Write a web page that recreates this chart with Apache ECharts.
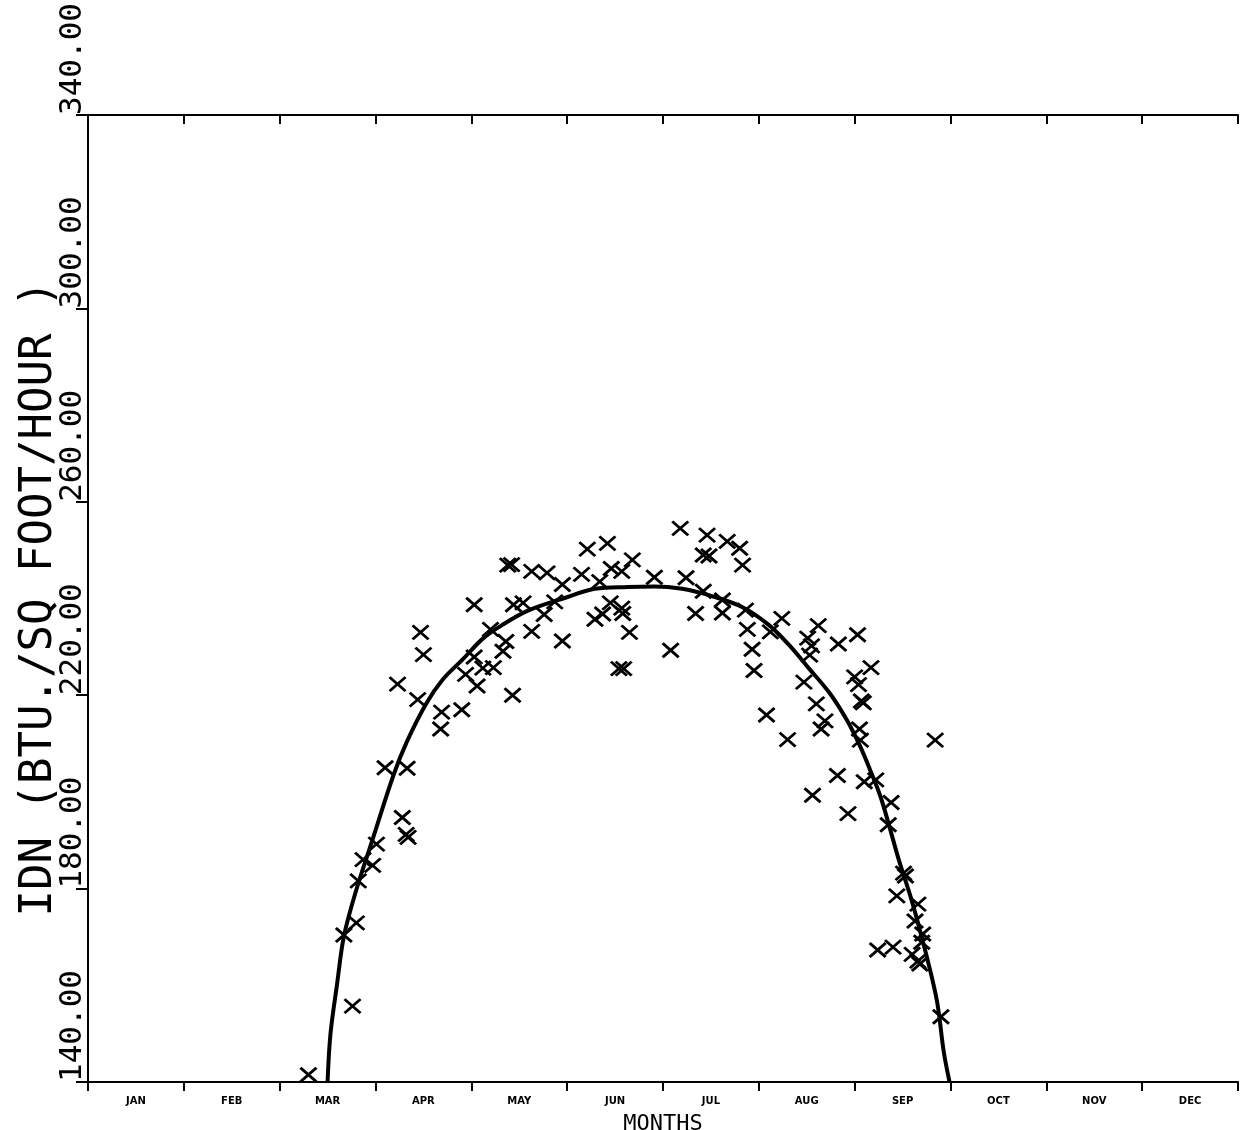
<!DOCTYPE html>
<html><head><meta charset="utf-8">
<script src="https://cdn.jsdelivr.net/npm/echarts@6/dist/echarts.min.js"></script>
<style>html,body{margin:0;padding:0;background:#fff}#c{width:1249px;height:1130px}</style>
</head><body><div id="c"></div>
<script>
// Month labels and y tick values
const months = ['JAN','FEB','MAR','APR','MAY','JUN','JUL','AUG','SEP','OCT','NOV','DEC'];
const yTicks = [140, 180, 220, 260, 300, 340];

// Fitted curve (month position, IDN value)
const curveMonth = [2.50, 2.53, 2.60, 2.67, 2.79, 2.97, 3.19, 3.33, 3.53, 3.70, 3.91, 4.12, 4.32, 4.59, 4.94, 5.29, 5.63, 5.91, 6.20, 6.51, 6.83, 7.10, 7.31, 7.52, 7.74, 7.92, 8.06, 8.16, 8.27, 8.35, 8.46, 8.60, 8.75, 8.86, 8.93, 8.99];
const curveValue = [140, 149.9, 160.4, 170.1, 179.1, 190.2, 203.6, 210.5, 218.3, 223.2, 227.4, 231.7, 234.5, 237.5, 239.9, 242.0, 242.4, 242.5, 242.0, 240.5, 238.2, 234.6, 230.5, 225.6, 220.4, 214.8, 209.3, 204.6, 199.0, 193.7, 186.0, 177.2, 166.1, 156.6, 146.2, 140];

// Observed points (month position, IDN value)
const obsMonth = [2.30, 2.76, 2.67, 2.80, 2.82, 2.87, 2.97, 3.01, 3.28, 3.34, 3.32, 3.10, 3.33, 3.23, 3.44, 3.47, 3.50, 3.69, 3.68, 3.90,
  3.94, 4.03, 4.12, 4.23, 4.06, 4.43, 4.03, 4.20, 4.36, 4.33, 4.44, 4.54, 4.63, 4.76, 4.87, 4.95, 4.38, 4.42, 4.63, 4.79,
  4.95, 5.21, 5.42, 5.15, 5.34, 5.46, 5.57, 5.68, 5.91, 5.45, 5.57, 5.29, 5.37, 5.58, 5.65, 6.08, 5.54, 5.59, 6.18, 6.46,
  6.42, 6.48, 6.67, 6.80, 6.83, 6.24, 6.42, 6.34, 6.62, 6.62, 6.86, 6.88, 6.93, 6.95, 7.24, 7.12, 7.08, 7.30, 7.51, 7.62,
  7.55, 7.53, 7.83, 8.03, 7.47, 7.60, 7.69, 7.65, 8.17, 8.00, 8.04, 8.09, 8.07, 8.05, 8.06, 8.84, 7.82, 7.56, 7.93, 8.10,
  8.22, 8.38, 8.35, 8.53, 8.51, 8.44, 8.66, 8.63, 8.70, 8.71, 8.24, 8.40, 8.60, 8.68, 8.66, 8.90];
const obsValue = [141.5, 155.7, 170.4, 172.9, 181.6, 186.0, 184.8, 189.2, 194.7, 190.6, 191.2, 205.0, 204.9, 222.3, 219.1, 233.0, 228.4, 216.5, 213.0, 217.0,
  224.3, 227.9, 225.6, 225.7, 221.9, 220.0, 238.7, 233.6, 231.1, 229.1, 238.7, 239.1, 233.2, 236.7, 239.3, 231.2, 246.9, 247.0, 245.6, 245.3,
  242.9, 250.2, 251.4, 245.0, 243.5, 246.2, 245.6, 248.0, 244.4, 239.1, 238.0, 235.7, 236.8, 236.9, 233.0, 229.3, 225.5, 225.5, 254.5, 253.1,
  249.0, 248.8, 251.8, 250.4, 246.9, 244.3, 241.5, 236.9, 239.7, 237.0, 237.6, 233.6, 229.5, 225.1, 235.9, 233.1, 215.9, 210.8, 231.8, 234.4,
  230.2, 228.3, 230.6, 232.5, 222.7, 218.2, 214.7, 213.0, 225.7, 223.8, 222.2, 218.4, 218.8, 213.0, 210.7, 210.7, 203.4, 199.3, 195.5, 202.1,
  202.5, 197.8, 193.2, 182.6, 183.2, 178.5, 176.8, 173.3, 168.9, 170.6, 167.3, 167.9, 166.4, 164.4, 165.0, 153.5];

const chart = echarts.init(document.getElementById('c'), null, {renderer: 'canvas'});
const line = {show: true, lineStyle: {color: '#000', width: 2}};
const tickStyle = {color: '#000', width: 2};
chart.setOption({
  animation: false,
  backgroundColor: '#fff',
  grid: {left: 88, right: 11, top: 115, bottom: 48, containLabel: false, outerBoundsMode: 'none'},
  xAxis: [
    {type: 'value', min: 0, max: 12, interval: 1, position: 'bottom', axisLine: line,
      axisTick: {show: true, inside: false, length: 9, lineStyle: tickStyle},
      axisLabel: {show: false}, splitLine: {show: false},
      name: 'MONTHS', nameLocation: 'middle', nameGap: 31, nameMoveOverlap: false,
      nameTextStyle: {fontFamily: 'DejaVu Sans Mono', fontSize: 22, color: '#000'}},
    {type: 'value', min: 0, max: 12, interval: 1, position: 'top', axisLine: line,
      axisTick: {show: true, inside: true, length: 9, lineStyle: tickStyle},
      axisLabel: {show: false}, splitLine: {show: false}},
    {type: 'category', data: months, position: 'bottom', boundaryGap: true,
      axisLine: {show: false}, axisTick: {show: false}, splitLine: {show: false},
      axisLabel: {margin: 14, fontSize: 10, fontWeight: 'bold', color: '#000', fontFamily: 'DejaVu Sans'}}
  ],
  yAxis: [
    {type: 'value', min: 140, max: 340, position: 'left', axisLine: line,
      axisTick: {show: true, customValues: yTicks, length: 12, lineStyle: tickStyle},
      axisLabel: {customValues: yTicks, rotate: 90, align: 'left', verticalAlign: 'bottom', margin: 0,
        fontFamily: 'DejaVu Sans Mono', fontSize: 31, color: '#000', formatter: v => Number(v).toFixed(2)},
      splitLine: {show: false},
      name: 'IDN (BTU./SQ FOOT/HOUR )', nameLocation: 'middle', nameGap: 26, nameMoveOverlap: false,
      nameTextStyle: {fontFamily: 'DejaVu Sans Mono', fontSize: 44, color: '#000'}},
    {type: 'value', min: 140, max: 340, position: 'right', axisLine: line,
      axisTick: {show: true, customValues: yTicks, inside: true, length: 9, lineStyle: tickStyle},
      axisLabel: {show: false}, splitLine: {show: false}}
  ],
  series: [
    {type: 'line', xAxisIndex: 0, yAxisIndex: 0, data: curveMonth.map((m, i) => [m, curveValue[i]]),
      smooth: 0.35, showSymbol: false, lineStyle: {color: '#000', width: 4}, z: 3},
    {type: 'scatter', xAxisIndex: 0, yAxisIndex: 0, data: obsMonth.map((m, i) => [m, obsValue[i]]),
      symbol: 'path://M0,0L16,14M16,0L0,14', symbolSize: [16, 14],
      itemStyle: {color: 'rgba(0,0,0,0)', borderColor: '#000', borderWidth: 2.8, opacity: 1}, z: 4}
  ]
});
</script></body></html>
